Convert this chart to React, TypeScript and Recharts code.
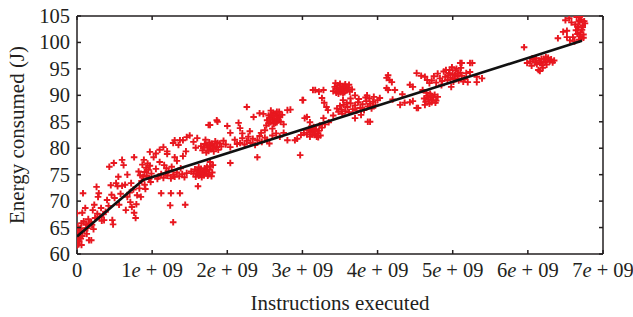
import { ScatterChart, Scatter, XAxis, YAxis } from "recharts";

type Pt = [number, number];

// x in units of 1e9 instructions, y in joules
const nearZero: Pt[] = [
  [0, 61.6], [0, 62.1], [0, 62.6], [0, 63.1], [0, 63.6], [0, 64.1], [0, 64.6], [0.02, 61.8],
  [0.03, 62.4], [0.02, 63.3], [0.04, 63.9], [0.03, 64.5], [0.05, 62.9], [0.06, 61.7], [0.05, 64.9],
  [0.01, 65.2], [0.07, 63.4], [0, 67.7], [0.08, 71.5], [0.07, 67.8], [0.11, 68.7], [0.12, 65.5],
  [0.15, 66.6], [0.13, 63.8], [0.16, 62.6], [0.19, 62.6], [0.19, 66], [0.2, 65.5], [0.21, 68.3],
  [0.23, 69.3], [0.26, 72.7], [0.28, 70.8], [0.29, 71.5], [0.3, 67], [0.32, 68.7], [0.1, 64.5],
  [0.14, 64.9], [0.17, 65.8], [0.09, 66.2], [0.24, 66.8], [0.27, 67.6], [0.22, 64.7], [0.06, 65.8],
  [0.33, 66.3], [0.35, 67.5],
];

const risePoints: Pt[] = [
  [0.36, 66.4], [0.38, 68], [0.4, 70.2], [0.42, 69.1], [0.45, 73], [0.43, 76.5], [0.49, 77.2],
  [0.47, 66.4], [0.48, 65.6], [0.52, 73.4], [0.54, 72.8], [0.56, 69.3], [0.5, 70.6], [0.58, 71.4],
  [0.6, 77.8], [0.62, 76.8], [0.6, 72.9], [0.64, 73.1], [0.65, 68.3], [0.67, 75], [0.67, 70.8],
  [0.7, 71.6], [0.72, 73.4], [0.73, 68.9], [0.76, 67.8], [0.78, 66.8], [0.76, 78.3], [0.75, 72.2],
  [0.8, 71.1], [0.83, 72.4], [0.85, 70.8], [0.82, 75.6], [0.86, 73.8], [0.88, 74.6], [0.9, 75.5],
  [0.92, 76.3], [0.94, 77.1], [0.96, 74.2], [0.98, 73.6], [0.87, 76.9], [0.9, 73.1], [0.93, 74.8],
  [0.95, 75.9], [0.97, 76.7], [0.89, 77.8], [0.84, 74.9], [0.91, 72.3], [0.99, 75.2], [0.79, 69.4],
  [0.71, 69.8], [0.55, 74.6], [0.46, 71.2],
];

const kneePoints: Pt[] = [
  [1.02, 78.3], [0.97, 79.3], [1.1, 79.7], [1.05, 76.1], [1.08, 74.6], [1.12, 75.1], [1.15, 74.4],
  [1.18, 75.3], [1.2, 74.8], [1.22, 75.6], [1.25, 74.3], [1.28, 75], [1.3, 74.6], [1.33, 75.4],
  [1.36, 74.7], [1.4, 75.1], [1.43, 74.5], [1.46, 75.3], [1.12, 71.5], [1.25, 71.5], [1.24, 69.2],
  [1.28, 66], [1.37, 71.5], [1.44, 69.3], [1.1, 77.4], [1.16, 76.8], [1.26, 76.5], [1.3, 78.3],
  [1.33, 77.6], [1.41, 78.5], [1.28, 81], [1.37, 81.5], [1.3, 81.5], [1.41, 81.5], [1.35, 80.6],
  [1.46, 82.1], [1.2, 79.4], [1.15, 80.2], [1.07, 74.2], [1.19, 76.2], [1.38, 76.2], [1.05, 79],
  [1.2, 78.9],
];

const lowCluster: Pt[] = [
  [1.55, 75.2], [1.58, 74.6], [1.6, 75.8], [1.62, 76.4], [1.64, 75], [1.66, 74.5], [1.68, 75.6],
  [1.7, 76.2], [1.72, 75.3], [1.74, 74.8], [1.76, 75.9], [1.78, 76.6], [1.8, 75.4], [1.62, 74.8],
  [1.65, 76.1], [1.69, 74.9], [1.73, 76.5], [1.57, 76], [1.67, 75.3], [1.71, 75.7], [1.75, 75.1],
  [1.79, 74.7], [1.61, 72.8], [1.81, 76.8], [1.77, 77.4], [1.52, 75.6], [1.63, 75.5], [1.59, 75.2],
];

const highCluster: Pt[] = [
  [1.6, 81.9], [1.65, 80.4], [1.67, 79.6], [1.7, 80.8], [1.72, 79.2], [1.74, 80.1], [1.76, 81.1],
  [1.78, 79.8], [1.8, 80.6], [1.82, 79.4], [1.84, 81.3], [1.86, 80.2], [1.88, 79.7], [1.9, 80.9],
  [1.92, 80.3], [1.95, 81.4], [1.71, 81.6], [1.75, 79.5], [1.79, 80.9], [1.83, 80.4], [1.87, 81],
  [1.69, 80.2], [1.73, 80.6], [1.81, 79.9], [1.77, 80.3], [1.55, 81.2], [1.58, 80.1], [1.75, 84.4],
  [1.86, 85.3], [1.87, 85], [1.77, 84.4], [1.5, 82.4], [1.45, 79.4], [1.98, 80.7], [2.04, 77.2],
];

const midBand: Pt[] = [
  [2.04, 80.2], [2.04, 82.9], [2.1, 81.6], [2.13, 80.8], [2.17, 81], [2.17, 83.8], [2.2, 81.9],
  [2.23, 80.7], [2.26, 81.4], [2.28, 82.2], [2.31, 81], [2.34, 81.8], [2.37, 80.6], [2.4, 81.5],
  [2.43, 82.3], [2.46, 81.2], [2.5, 82], [2.53, 81.6], [2.56, 80.9], [2.2, 82.8], [2.3, 83.2],
  [2.45, 82.9], [2.6, 82.4], [2.65, 82.8], [2.7, 82.2], [2.75, 82.9], [2.8, 81.5], [2.9, 81.5],
  [2.93, 81.8], [2.4, 78.3], [2.97, 78.7], [2.26, 87.8], [2.43, 86.6], [2.35, 85.9], [2.48, 86.5],
  [2.15, 84.8], [2.0, 84.2],
];

const cluster85: Pt[] = [
  [2.53, 85.3], [2.55, 86.2], [2.57, 84.9], [2.59, 85.8], [2.61, 86.7], [2.63, 85.2], [2.65, 86.1],
  [2.67, 85.6], [2.69, 86.9], [2.71, 85], [2.73, 86.3], [2.58, 87.1], [2.62, 84.6], [2.66, 84.9],
  [2.6, 85.5], [2.64, 86.5], [2.7, 85.9], [2.56, 85.6], [2.68, 85.3], [2.52, 84.3], [2.75, 84.5],
  [2.8, 87.2], [2.84, 87.3], [2.5, 83.4], [2.6, 83.7], [2.62, 86.1], [2.66, 86.9], [2.58, 86.4],
  [2.64, 84.8], [2.7, 86.4], [2.55, 84.7],
];

const around3: Pt[] = [
  [3.0, 89.1], [3.01, 89.1], [3.14, 91], [3.17, 91], [3.28, 91], [3.22, 90.7], [3.03, 85.7],
  [3.06, 85.9], [3.1, 84.9], [3.26, 89.5], [3.29, 88.6], [3.32, 87.8], [3.34, 87.2], [3.28, 85.7],
  [3.06, 82.6], [3.08, 83.4], [3.1, 82.2], [3.12, 83.8], [3.14, 83.1], [3.16, 82.5], [3.18, 83.6],
  [3.2, 82.8], [3.22, 83.3], [3.24, 82.4], [3.26, 83.9], [3.11, 83], [3.19, 82.2], [3.15, 84],
  [3.23, 84.3], [3.3, 84.5], [3.02, 82.9], [3.35, 84.9], [2.98, 82.5], [3.13, 82.6], [3.17, 83.3],
  [3.21, 82.1], [3.09, 83.7],
];

const cluster91: Pt[] = [
  [3.41, 90.8], [3.43, 91.6], [3.45, 90.5], [3.47, 91.9], [3.49, 91.1], [3.51, 90.6], [3.53, 91.7],
  [3.55, 91.2], [3.57, 92.1], [3.59, 90.9], [3.61, 91.5], [3.63, 90.7], [3.46, 91.3], [3.5, 92.2],
  [3.54, 90.4], [3.58, 91.4], [3.52, 91], [3.48, 90.3], [3.56, 90.6], [3.62, 92], [3.44, 92.3],
  [3.66, 91.1], [3.7, 90], [3.54, 89.1], [3.5, 91.4], [3.56, 91.8], [3.6, 91.1], [3.47, 90.9],
];

const around4: Pt[] = [
  [3.46, 87.5], [3.48, 86.9], [3.5, 88], [3.52, 87.3], [3.55, 88.2], [3.57, 87], [3.6, 87.8],
  [3.62, 86.8], [3.64, 88.5], [3.53, 86.5], [3.59, 88.6], [3.67, 87.4], [3.7, 88.1], [3.72, 87.1],
  [3.74, 88.7], [3.77, 87.6], [3.8, 88.3], [3.82, 87.2], [3.85, 88.9], [3.87, 87.9], [3.9, 88.4],
  [3.92, 87.5], [3.94, 88.8], [3.97, 88.1], [4.0, 89.1], [4.03, 89.5], [3.86, 90], [3.84, 89.6],
  [3.89, 89.4], [3.95, 89.7], [3.7, 85.7], [3.87, 85], [3.9, 85], [3.78, 86.3], [3.41, 86.2],
  [3.64, 89.4], [3.75, 89.3],
];

const around45: Pt[] = [
  [4.14, 93.8], [4.12, 93.3], [4.19, 92.5], [4.16, 92.9], [4.14, 91], [4.12, 91.4], [4.23, 91],
  [4.3, 88.2], [4.36, 88.6], [4.43, 88.7], [4.47, 88.9], [4.43, 92], [4.47, 91.6], [4.52, 94.2],
  [4.52, 87.6], [4.54, 87.6], [4.58, 93.7], [4.63, 93.5], [4.6, 91], [4.66, 92.9], [4.69, 92.3],
  [4.2, 89.2], [4.33, 90.2],
];

const cluster89: Pt[] = [
  [4.62, 89.4], [4.64, 88.8], [4.66, 89.9], [4.68, 89.2], [4.7, 90.3], [4.72, 88.7], [4.74, 89.6],
  [4.76, 90.1], [4.78, 89], [4.65, 90.5], [4.69, 88.4], [4.73, 89.1], [4.77, 88.6], [4.67, 89.6],
  [4.71, 89.9], [4.8, 89.7], [4.63, 88.2],
];

const cluster94: Pt[] = [
  [4.72, 92.8], [4.75, 93.6], [4.78, 92.4], [4.8, 94.1], [4.83, 93.2], [4.86, 92.7], [4.88, 94.5],
  [4.9, 93.5], [4.93, 92.9], [4.95, 94.2], [4.97, 93.3], [4.99, 95.3], [5.0, 94], [5.02, 93.1],
  [5.04, 94.7], [5.06, 93.6], [5.08, 92.8], [5.1, 94.3], [5.12, 93.7], [5.14, 92.6], [4.96, 94.8],
  [5.01, 92.6], [5.05, 95], [4.91, 94.8], [4.85, 91.9], [4.98, 91.6], [5.03, 93.8], [5.07, 94.1],
  [4.94, 93.8], [5.11, 95.2], [5.12, 96.1], [5.1, 96.1], [5.23, 96.1], [5.26, 96.1], [5.23, 94.4],
  [5.2, 92.5], [5.32, 93.5], [5.32, 92.5], [5.39, 93.2], [5.16, 93.1], [5.18, 94.2],
];

const cluster96: Pt[] = [
  [5.95, 99.1], [5.99, 96.1], [6.03, 96.4], [6.05, 95.6], [6.08, 96.8], [6.1, 96.2], [6.12, 95.9],
  [6.14, 94.8], [6.15, 96.6], [6.17, 96.1], [6.19, 95.7], [6.21, 96.9], [6.23, 96.3], [6.25, 95.8],
  [6.27, 97.1], [6.29, 96.4], [6.31, 96.8], [6.33, 96.2], [6.35, 96.6], [6.16, 94.6], [6.2, 95.2],
  [6.11, 97], [6.26, 96.7], [6.24, 97.2], [6.18, 96.9], [6.06, 97],
];

const topBand: Pt[] = [
  [6.4, 100.8], [6.47, 102], [6.5, 104.2], [6.52, 101], [6.52, 102.2], [6.55, 104.6], [6.6, 101],
  [6.62, 100.2], [6.63, 103.4], [6.65, 104.8], [6.66, 101.6], [6.67, 102.8], [6.68, 100.5],
  [6.69, 103.9], [6.7, 105], [6.7, 101.9], [6.71, 104.3], [6.72, 102.4], [6.73, 103.2], [6.74, 100.9],
  [6.75, 104], [6.74, 101.5], [6.72, 105.2], [6.68, 104.1], [6.66, 103], [6.64, 102.3], [6.71, 100.7],
  [6.73, 102.9], [6.69, 101.2], [6.76, 103.6], [6.58, 103.8], [6.56, 100.4],
];

const fitLine: Pt[] = [[0, 63.3], [0.88, 74], [6.72, 100.3]];

const xTicks = [0, 1, 2, 3, 4, 5, 6, 7];
const yTicks = [60, 65, 70, 75, 80, 85, 90, 95, 100, 105];

const toRows = (pts: Pt[]) => pts.map(([x, y]) => ({ x, y }));

const points = toRows([
  ...nearZero, ...risePoints, ...kneePoints, ...lowCluster, ...highCluster, ...midBand,
  ...cluster85, ...around3, ...cluster91, ...around4, ...around45, ...cluster89, ...cluster94,
  ...cluster96, ...topBand,
]);
const lineRows = toRows(fitLine);

const font = "'Liberation Serif', 'Times New Roman', serif";
const ink = "#231f20";
const red = "#e8171f";
const TICK = 4;
const tickFont = 20.5;
const titleFont = 21;

const Plus = (props: any) => {
  const { cx, cy } = props;
  if (cx == null || cy == null) return <g />;
  const a = 3.3;
  return (
    <path
      d={`M${cx - a},${cy}H${cx + a}M${cx},${cy - a}V${cy + a}`}
      stroke={red}
      strokeWidth={1.9}
      fill="none"
    />
  );
};

const NoDot = () => <g />;

const BottomTick = ({ x, y, payload }: any) => (
  <g>
    <line x1={x} y1={y} x2={x} y2={y - TICK} stroke={ink} strokeWidth={1.5} />
    <text x={x} y={y + 23} textAnchor="middle" fontSize={tickFont} fontFamily={font} fill={ink}>
      {payload.value === 0 ? (
        "0"
      ) : (
        <>
          {payload.value}
          <tspan fontStyle="italic">e</tspan>
          {" + 09"}
        </>
      )}
    </text>
  </g>
);

const TopTick = ({ x, y }: any) => (
  <line x1={x} y1={y} x2={x} y2={y + TICK} stroke={ink} strokeWidth={1.5} />
);

const LeftTick = ({ x, y, payload }: any) => (
  <g>
    <line x1={x} y1={y} x2={x + TICK} y2={y} stroke={ink} strokeWidth={1.5} />
    <text x={x - 7} y={y + 7} textAnchor="end" fontSize={tickFont} fontFamily={font} fill={ink}>
      {payload.value}
    </text>
  </g>
);

const RightTick = ({ x, y }: any) => (
  <line x1={x} y1={y} x2={x - TICK} y2={y} stroke={ink} strokeWidth={1.5} />
);

const axisLine = { stroke: ink, strokeWidth: 1.5 };

export default function App() {
  return (
    <div style={{ position: "absolute", left: 0, top: 0, background: "#fff" }}>
      <ScatterChart width={633} height={317} margin={{ top: 15, right: 29, bottom: 0, left: 0 }}>
        <XAxis
          xAxisId="b"
          type="number"
          dataKey="x"
          domain={[0, 7]}
          ticks={xTicks}
          interval={0}
          allowDataOverflow
          height={63}
          tickSize={0}
          tickMargin={0}
          tickLine={false}
          axisLine={axisLine}
          tick={<BottomTick />}
          label={{
            value: "Instructions executed",
            position: "insideBottom",
            offset: 7,
            style: { fontSize: titleFont, fontFamily: font, fill: ink },
          }}
        />
        <XAxis
          xAxisId="t"
          orientation="top"
          type="number"
          dataKey="x"
          domain={[0, 7]}
          ticks={xTicks}
          interval={0}
          allowDataOverflow
          height={1}
          tickSize={0}
          tickMargin={0}
          tickLine={false}
          axisLine={axisLine}
          tick={<TopTick />}
        />
        <YAxis
          yAxisId="l"
          type="number"
          dataKey="y"
          domain={[60, 105]}
          ticks={yTicks}
          interval={0}
          allowDataOverflow
          width={77}
          tickSize={0}
          tickMargin={0}
          tickLine={false}
          axisLine={axisLine}
          tick={<LeftTick />}
          label={{
            value: "Energy consumed (J)",
            angle: -90,
            position: "insideLeft",
            offset: 17,
            style: { textAnchor: "middle", fontSize: titleFont, fontFamily: font, fill: ink },
          }}
        />
        <YAxis
          yAxisId="r"
          orientation="right"
          type="number"
          dataKey="y"
          domain={[60, 105]}
          ticks={yTicks}
          interval={0}
          allowDataOverflow
          width={1}
          tickSize={0}
          tickMargin={0}
          tickLine={false}
          axisLine={axisLine}
          tick={<RightTick />}
        />
        <Scatter
          xAxisId="b"
          yAxisId="l"
          data={points}
          shape={<Plus />}
          isAnimationActive={false}
        />
        <Scatter
          xAxisId="b"
          yAxisId="l"
          data={lineRows}
          line={{ stroke: "#111", strokeWidth: 2.6 }}
          shape={<NoDot />}
          isAnimationActive={false}
        />
      </ScatterChart>
    </div>
  );
}
